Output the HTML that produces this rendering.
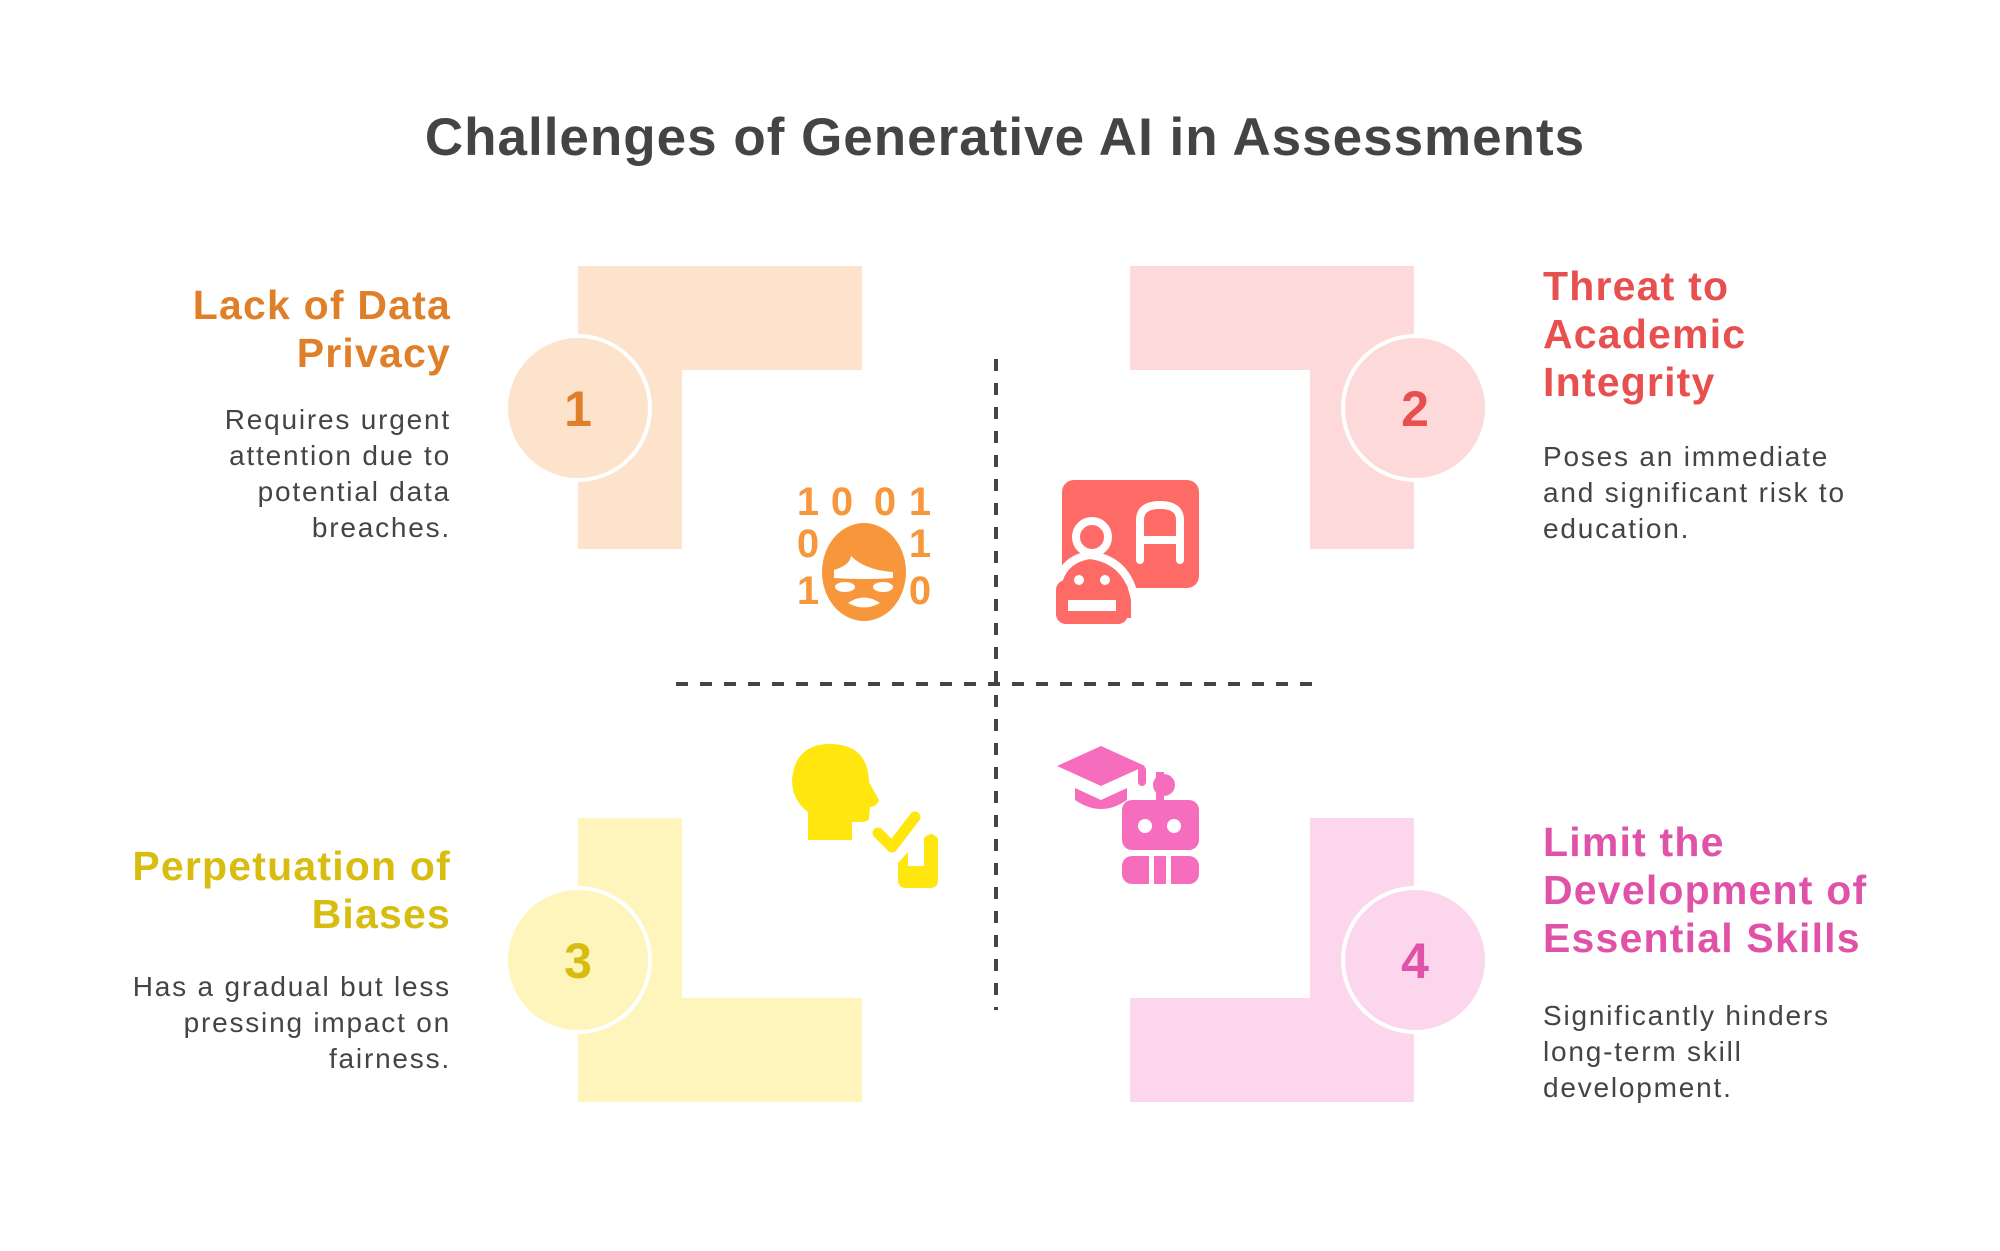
<!DOCTYPE html>
<html><head><meta charset="utf-8"><style>
html,body{margin:0;padding:0;background:#fff;}
svg{display:block;}
text{font-family:"Liberation Sans",sans-serif;}
.t{font-weight:bold;font-size:41px;letter-spacing:1.2px;}
.d{font-size:28px;fill:#444;letter-spacing:1.8px;}
</style></head><body>
<svg width="2000" height="1251" viewBox="0 0 2000 1251" xmlns="http://www.w3.org/2000/svg">
<rect width="2000" height="1251" fill="#fff"/>
<text x="1005" y="155" text-anchor="middle" font-weight="bold" font-size="53" letter-spacing="1" fill="#444">Challenges of Generative AI in Assessments</text>

<!-- block 1 -->
<path d="M578 266H862V370H682V549H578Z" fill="#fde3cc"/>
<circle cx="578" cy="408" r="72" fill="#fde3cc" stroke="#fff" stroke-width="4"/>
<text x="578" y="426" text-anchor="middle" font-weight="bold" font-size="50" fill="#e07f2a">1</text>
<!-- block 2 -->
<path d="M1130 266H1414V549H1310V370H1130Z" fill="#fdd9d9"/>
<circle cx="1415" cy="408" r="72" fill="#fdd9d9" stroke="#fff" stroke-width="4"/>
<text x="1415" y="426" text-anchor="middle" font-weight="bold" font-size="50" fill="#e84f4f">2</text>
<!-- block 3 -->
<path d="M578 818H682V998H862V1102H578Z" fill="#fdf5bb"/>
<circle cx="578" cy="960" r="72" fill="#fdf5bb" stroke="#fff" stroke-width="4"/>
<text x="578" y="978" text-anchor="middle" font-weight="bold" font-size="50" fill="#d8bd10">3</text>
<!-- block 4 -->
<path d="M1310 818H1414V1102H1130V998H1310Z" fill="#fcd6ec"/>
<circle cx="1415" cy="960" r="72" fill="#fcd6ec" stroke="#fff" stroke-width="4"/>
<text x="1415" y="978" text-anchor="middle" font-weight="bold" font-size="50" fill="#e052a8">4</text>

<!-- dashed lines -->
<line x1="996" y1="359" x2="996" y2="1010" stroke="#444" stroke-width="4" stroke-dasharray="12 12"/>
<line x1="676" y1="684" x2="1320" y2="684" stroke="#444" stroke-width="4" stroke-dasharray="12 12"/>

<g text-anchor="end">
<text class="t" x="451" y="319" fill="#e07f2a">Lack of Data</text>
<text class="t" x="451" y="367" fill="#e07f2a">Privacy</text>
<text class="d" x="451" y="429">Requires urgent</text>
<text class="d" x="451" y="465">attention due to</text>
<text class="d" x="451" y="501">potential data</text>
<text class="d" x="451" y="537">breaches.</text>
<text class="t" x="451" y="880" fill="#d8bd10">Perpetuation of</text>
<text class="t" x="451" y="928" fill="#d8bd10">Biases</text>
<text class="d" x="451" y="996">Has a gradual but less</text>
<text class="d" x="451" y="1032">pressing impact on</text>
<text class="d" x="451" y="1068">fairness.</text>
</g>
<text class="t" x="1543" y="300" fill="#e84f4f">Threat to</text>
<text class="t" x="1543" y="348" fill="#e84f4f">Academic</text>
<text class="t" x="1543" y="396" fill="#e84f4f">Integrity</text>
<text class="d" x="1543" y="466">Poses an immediate</text>
<text class="d" x="1543" y="502">and significant risk to</text>
<text class="d" x="1543" y="538">education.</text>
<text class="t" x="1543" y="856" fill="#e052a8">Limit the</text>
<text class="t" x="1543" y="904" fill="#e052a8">Development of</text>
<text class="t" x="1543" y="952" fill="#e052a8">Essential Skills</text>
<text class="d" x="1543" y="1025">Significantly hinders</text>
<text class="d" x="1543" y="1061">long-term skill</text>
<text class="d" x="1543" y="1097">development.</text>

<!-- icon 1 orange -->
<g fill="#f7963a" font-weight="bold" font-size="40" text-anchor="middle">
<text x="808" y="515">1</text><text x="842" y="515">0</text><text x="885" y="515">0</text><text x="920" y="515">1</text>
<text x="808" y="557">0</text><text x="920" y="557">1</text>
<text x="808" y="604">1</text><text x="920" y="604">0</text>
<ellipse cx="864" cy="572" rx="42" ry="49"/>
<path d="M834 570Q850 565 851 556Q865 570 893 572L893 578Q864 580 834 578Z" fill="#fff"/>
<ellipse cx="845" cy="587" rx="10" ry="5" fill="#fff"/><ellipse cx="883" cy="587" rx="10" ry="5" fill="#fff"/>
<path d="M848 603Q864 592 880 603Q864 612 848 603Z" fill="#fff"/>
</g>
<!-- icon 2 red -->
<g fill="#fe6b67">
<rect x="1062" y="480" width="137" height="108" rx="12"/>
<path d="M1140 560V520Q1140 505 1160 505Q1180 505 1180 520V560M1140 540H1180" stroke="#fff" stroke-width="8" fill="none" stroke-linecap="round"/>
<path d="M1056 600Q1056 560 1090 555Q1128 560 1135 600V622H1056Z" stroke="#fff" stroke-width="8"/>
<rect x="1056" y="580" width="72" height="44" rx="10"/>
<circle cx="1092" cy="537" r="16" stroke="#fff" stroke-width="8"/>
<circle cx="1079" cy="580" r="5" fill="#fff"/><circle cx="1105" cy="580" r="5" fill="#fff"/>
<rect x="1068" y="600" width="48" height="11" fill="#fff"/>
</g>
<!-- icon 3 yellow -->
<g fill="#fee60e">
<path d="M830 744Q868 744 869 782L879 800Q878 806 870 807L869 818Q869 822 860 822H852V840H808V812Q792 800 792 780Q795 744 830 744Z"/>
<path d="M878 833L892 847L915 817" stroke="#fee60e" stroke-width="11" fill="none" stroke-linecap="round" stroke-linejoin="round"/>
<path d="M938 838V880Q938 888 930 888H906Q898 888 898 880V863L908 852V866H924V838Q928 834 932 834Z"/>
</g>
<!-- icon 4 pink -->
<g fill="#f76dbd">
<path d="M1057 766L1101 746L1145 766L1101 786Z"/>
<path d="M1075 788V800Q1101 818 1127 800V788L1101 800Z"/>
<rect x="1138" y="766" width="8" height="20" rx="4"/>
<rect x="1156" y="772" width="8" height="28"/>
<circle cx="1164" cy="785" r="11"/>
<rect x="1122" y="800" width="77" height="50" rx="10"/>
<circle cx="1145" cy="826" r="7" fill="#fff"/><circle cx="1174" cy="826" r="7" fill="#fff"/>
<rect x="1122" y="856" width="77" height="28" rx="10"/>
<rect x="1149" y="856" width="5" height="28" fill="#fff"/><rect x="1166" y="856" width="5" height="28" fill="#fff"/>
</g>
</svg>
</body></html>
